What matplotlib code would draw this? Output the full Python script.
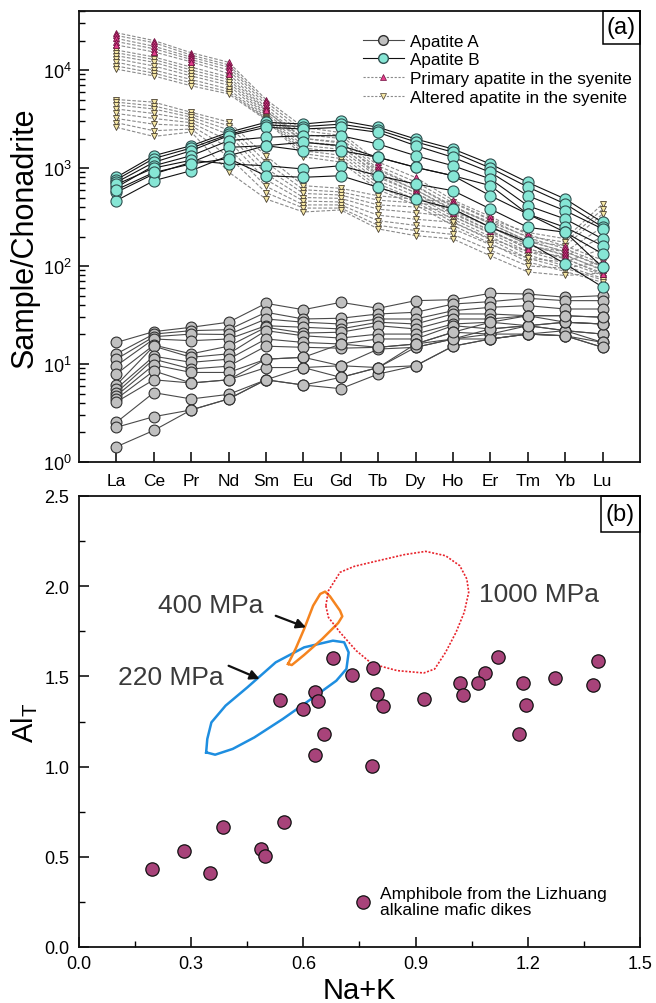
import numpy as np
import matplotlib
matplotlib.use('Agg')
import matplotlib.pyplot as plt
from matplotlib.lines import Line2D
from matplotlib.patches import Rectangle
from matplotlib.ticker import LogLocator, MultipleLocator, FormatStrFormatter, NullFormatter

plt.rcParams['font.family'] = ['Liberation Sans', 'DejaVu Sans']
plt.rcParams['mathtext.fontset'] = 'custom'
plt.rcParams['mathtext.rm'] = 'Liberation Sans'
plt.rcParams['mathtext.it'] = 'Liberation Sans:italic'
plt.rcParams['mathtext.bf'] = 'Liberation Sans:bold'

# ---------------- Panel (a) data: chondrite-normalised REE ----------------
elements = ['La', 'Ce', 'Pr', 'Nd', 'Sm', 'Eu', 'Gd', 'Tb', 'Dy', 'Ho', 'Er', 'Tm', 'Yb', 'Lu']

apatite_a = [
    [16.6, 21.4, 23.7, 26.7, 41.6, 35.8, 42.6, 37.0, 44.3, 45.3, 52.6, 51.8, 48.0, 49.8],
    [12.7, 20.2, 21.9, 22.4, 33.7, 28.8, 29.3, 32.4, 33.7, 40.9, 43.3, 46.8, 44.3, 44.3],
    [11.2, 19.0, 20.2, 20.0, 28.8, 26.7, 25.6, 28.8, 28.8, 35.0, 37.9, 39.4, 36.4, 36.4],
    [9.6, 18.0, 17.3, 18.0, 24.6, 23.7, 22.8, 26.7, 25.6, 32.4, 32.4, 31.1, 31.1, 30.0],
    [7.9, 15.6, 12.7, 15.2, 23.7, 20.7, 21.1, 24.6, 22.8, 28.8, 28.8, 31.1, 26.7, 25.6],
    [6.1, 15.2, 11.7, 12.7, 21.9, 19.4, 18.4, 20.2, 20.2, 25.6, 26.7, 24.6, 21.9, 20.2],
    [5.6, 12.0, 10.4, 11.2, 18.0, 16.6, 16.0, 18.0, 18.0, 24.6, 22.8, 24.6, 21.9, 20.2],
    [5.1, 11.2, 8.9, 9.5, 15.2, 14.8, 14.5, 14.8, 16.0, 21.1, 20.2, 20.2, 19.4, 16.6],
    [4.75, 9.8, 8.2, 8.2, 11.2, 11.7, 9.6, 14.2, 14.8, 18.0, 18.0, 20.2, 19.4, 14.8],
    [4.4, 8.5, 6.4, 6.9, 9.2, 9.2, 7.3, 9.2, 9.6, 15.2, 18.0, 20.2, 21.9, 16.6],
    [4.1, 6.9, 6.4, 6.9, 11.2, 11.7, 16.0, 14.8, 16.0, 18.0, 20.2, 24.6, 26.7, 25.6],
    [2.54, 5.1, 4.4, 4.9, 6.9, 6.1, 5.6, 7.9, 9.6, 15.2, 18.0, 20.2, 19.4, 14.8],
    [2.26, 2.9, 3.4, 4.4, 6.9, 9.2, 9.6, 9.2, 14.8, 18.0, 22.8, 24.6, 26.7, 25.6],
    [1.43, 2.1, 3.4, 4.4, 6.9, 6.1, 7.3, 9.2, 16.0, 21.1, 26.7, 31.1, 31.1, 30.0],
]

apatite_b = [
    [804, 1336, 1690, 2313, 2926, 2812, 3040, 2601, 1977, 1563, 1099, 714, 483, 279],
    [760, 1250, 1600, 2200, 2750, 2650, 2800, 2450, 1850, 1450, 1000, 640, 430, 250],
    [714, 1143, 1503, 2136, 2601, 2500, 2601, 2313, 1690, 1285, 903, 521, 367, 239],
    [635, 1055, 1336, 1900, 2056, 2136, 2136, 1757, 1336, 1055, 773, 412, 302, 189],
    [565, 869, 1143, 1625, 1690, 1828, 1690, 1285, 1016, 834, 661, 339, 248, 161],
    [464, 742, 939, 1336, 1690, 1503, 1503, 1285, 1016, 834, 521, 339, 221, 133],
    [680, 1000, 1200, 1099, 1055, 977, 1055, 834, 687, 587, 382, 248, 221, 97],
    [600, 900, 1100, 1250, 834, 804, 834, 635, 483, 382, 248, 175, 105, 61],
]

primary_syenite = [
    [24000, 20000, 15000, 12000, 5000, 2600, 2300, 1150, 800, 470, 320, 210, 160, 115],
    [22500, 19000, 14200, 11300, 4700, 2400, 2150, 1050, 720, 440, 295, 195, 150, 105],
    [21000, 17500, 13500, 10700, 4400, 2200, 2000, 980, 660, 410, 270, 180, 140, 98],
    [19500, 16500, 12800, 10000, 4100, 2000, 1850, 900, 600, 380, 250, 165, 130, 90],
    [18000, 15300, 12100, 9200, 3900, 1850, 1700, 830, 560, 350, 230, 150, 120, 82],
]

altered_syenite = [
    [16000, 13600, 10700, 8500, 3800, 2000, 1800, 950, 650, 400, 270, 180, 140, 100],
    [15000, 12800, 10000, 8000, 3600, 1850, 1650, 870, 600, 370, 250, 165, 128, 92],
    [14000, 12000, 9300, 7500, 3450, 1700, 1550, 800, 560, 340, 230, 150, 118, 85],
    [13000, 11000, 8700, 7000, 3300, 1600, 1450, 740, 520, 320, 215, 140, 110, 80],
    [12000, 10000, 8000, 6400, 3200, 1500, 1350, 690, 480, 300, 200, 130, 100, 75],
    [11000, 9300, 7400, 6000, 3150, 1400, 1250, 640, 450, 280, 185, 120, 95, 72],
    [10200, 8700, 6900, 5700, 3100, 1300, 1150, 600, 420, 260, 170, 110, 88, 68],
    [5000, 4700, 3700, 2950, 1330, 660, 620, 520, 480, 450, 300, 220, 190, 430],
    [4700, 4300, 3500, 2700, 1150, 600, 570, 470, 440, 400, 280, 200, 175, 380],
    [4400, 4000, 3300, 2450, 1000, 550, 530, 420, 400, 360, 250, 180, 160, 340],
    [4000, 3600, 3100, 2200, 870, 500, 490, 380, 350, 320, 220, 160, 140, 250],
    [3600, 3200, 2900, 1900, 760, 460, 450, 330, 300, 280, 190, 140, 125, 200],
    [3200, 2800, 2700, 1600, 650, 420, 420, 290, 260, 240, 165, 120, 110, 150],
    [2900, 2400, 2500, 1300, 560, 390, 390, 260, 230, 210, 145, 100, 95, 110],
    [2600, 2100, 2330, 910, 483, 356, 373, 239, 204, 189, 127, 87, 80, 85],
]

# ---------------- Panel (b) data: amphibole Al_T vs Na+K ----------------
na_k = [0.679, 0.729, 0.786, 1.121, 1.387, 1.085, 1.019, 1.066, 1.187, 1.272,
        1.375, 0.537, 0.631, 0.639, 0.600, 0.796, 0.814, 0.923, 1.028, 1.194,
        0.655, 1.176, 0.631, 0.784, 0.194, 0.281, 0.349, 0.385, 0.487, 0.497, 0.548]
al_t = [1.600, 1.509, 1.547, 1.606, 1.584, 1.517, 1.462, 1.462, 1.463, 1.489,
        1.452, 1.369, 1.415, 1.364, 1.319, 1.402, 1.336, 1.377, 1.399, 1.343,
        1.179, 1.181, 1.064, 1.005, 0.432, 0.534, 0.408, 0.667, 0.541, 0.503, 0.691]

field_220_x = [0.340, 0.343, 0.354, 0.392, 0.450, 0.526, 0.602, 0.679, 0.709, 0.721,
               0.715, 0.688, 0.621, 0.545, 0.469, 0.411, 0.364]
field_220_y = [1.079, 1.153, 1.245, 1.338, 1.439, 1.578, 1.661, 1.698, 1.689, 1.633,
               1.541, 1.476, 1.375, 1.264, 1.162, 1.098, 1.066]
field_400_x = [0.559, 0.579, 0.602, 0.626, 0.645, 0.658, 0.671, 0.698, 0.704, 0.693,
               0.650, 0.602, 0.569]
field_400_y = [1.569, 1.652, 1.763, 1.892, 1.957, 1.970, 1.944, 1.864, 1.833, 1.796,
               1.707, 1.619, 1.563]
field_1000_x = [0.660, 0.667, 0.698, 0.736, 0.793, 0.870, 0.927, 0.980, 1.018, 1.037,
                1.042, 1.030, 1.008, 0.980, 0.951, 0.922, 0.851, 0.784, 0.741, 0.698, 0.667]
field_1000_y = [1.892, 1.975, 2.077, 2.110, 2.138, 2.175, 2.193, 2.169, 2.114, 2.040,
                1.966, 1.855, 1.744, 1.633, 1.541, 1.519, 1.532, 1.569, 1.643, 1.744, 1.827]

# ---------------- Figure ----------------
fig = plt.figure(figsize=(6.56, 10.04), dpi=100)
ax1 = fig.add_axes([79 / 656, 1 - 463 / 1004, 561 / 656, 451 / 1004])
ax2 = fig.add_axes([79 / 656, 1 - 948 / 1004, 561 / 656, 451 / 1004])

xpos = np.arange(len(elements))

dash = (0, (3.2, 1.6))
for s in primary_syenite:
    ax1.plot(xpos, s, linestyle=dash, color='#8a8a8a', lw=0.8, zorder=2)
for s in altered_syenite:
    ax1.plot(xpos, s, linestyle=dash, color='#8a8a8a', lw=0.8, zorder=2)
for s in altered_syenite:
    ax1.plot(xpos, s, linestyle='none', marker='v', ms=5, mfc='#f6e8a6',
             mec='#4a4030', mew=0.6, zorder=3)
for s in primary_syenite:
    ax1.plot(xpos, s, linestyle='none', marker='^', ms=5, mfc='#e43f8c',
             mec='#701040', mew=0.6, zorder=3)
for s in apatite_a:
    ax1.plot(xpos, s, '-', color='#4a4a4a', lw=0.8, marker='o', ms=7.8,
             mfc='#c0c0c0', mec='#303030', mew=0.8, zorder=4)
for s in apatite_b:
    ax1.plot(xpos, s, '-', color='#111111', lw=0.8, marker='o', ms=8.0,
             mfc='#86e6d5', mec='#305050', mew=0.8, zorder=4)

ax1.set_yscale('log')
ax1.set_ylim(1, 4e4)
ax1.set_xlim(-1, 14)
ax1.set_xticks(xpos)
ax1.set_xticklabels(elements, fontsize=12.5)
ax1.yaxis.set_major_locator(LogLocator(base=10, numticks=10))
ax1.yaxis.set_minor_locator(LogLocator(base=10, subs=np.arange(2, 10), numticks=20))
ax1.yaxis.set_minor_formatter(NullFormatter())
ax1.tick_params(axis='y', labelsize=13, pad=5)
ax1.tick_params(axis='x', pad=8)
ax1.tick_params(which='major', direction='in', length=7, width=1.1, top=False, right=False)
ax1.tick_params(which='minor', direction='in', length=4, width=1.0, top=False, right=False)
ax1.set_ylabel('Sample/Chonadrite', fontsize=22)
ax1.yaxis.set_label_coords(-0.07, 0.5)

handles = [
    Line2D([], [], color='#4a4a4a', lw=0.8, marker='o', ms=7, mfc='#c0c0c0', mec='#303030'),
    Line2D([], [], color='#111111', lw=0.8, marker='o', ms=7, mfc='#86e6d5', mec='#305050'),
    Line2D([], [], color='#8a8a8a', lw=0.8, linestyle=(0, (2, 1.5)), marker='^', ms=4.5,
           mfc='#e43f8c', mec='#701040', mew=0.5),
    Line2D([], [], color='#8a8a8a', lw=0.8, linestyle=(0, (2, 1.5)), marker='v', ms=4.5,
           mfc='#f6e8a6', mec='#4a4030', mew=0.5),
]
labels = ['Apatite A', 'Apatite B', 'Primary apatite in the syenite', 'Altered apatite in the syenite']
ax1.legend(handles, labels, loc='upper left', bbox_to_anchor=(0.506, 0.95), frameon=False,
           fontsize=12.3, handlelength=2.4, handletextpad=0.35, labelspacing=0.22, borderpad=0,
           borderaxespad=0)

for ax, lab, w, h in [(ax1, '(a)', 0.066, 0.073), (ax2, '(b)', 0.070, 0.080)]:
    ax.add_patch(Rectangle((1 - w, 1 - h), w, h, transform=ax.transAxes, fill=False,
                           ec='k', lw=1.1, zorder=6, clip_on=False))
    ax.text(1 - w / 2, 1 - h / 2, lab, transform=ax.transAxes, ha='center', va='center',
            fontsize=17, zorder=7)

for ax in (ax1, ax2):
    for sp in ax.spines.values():
        sp.set_linewidth(1.3)
        sp.set_color('#111111')

# ---------------- Panel (b) ----------------
ax2.plot(field_220_x + field_220_x[:1], field_220_y + field_220_y[:1], color='#1e8ee0',
         lw=1.8, solid_joinstyle='round', zorder=2)
ax2.plot(field_400_x + field_400_x[:1], field_400_y + field_400_y[:1], color='#f5841f',
         lw=1.8, solid_joinstyle='round', zorder=2)
ax2.plot(field_1000_x + field_1000_x[:1], field_1000_y + field_1000_y[:1], color='#e8242c',
         lw=1.2, linestyle=(0, (1.2, 1.0)), zorder=2)

ax2.scatter(na_k, al_t, s=92, c='#a8437a', edgecolors='#111111', linewidths=0.9, zorder=4)

txt_col = '#3a3a3a'
ax2.text(0.211, 1.896, '400 MPa', fontsize=19, color=txt_col, va='center', ha='left')
ax2.text(1.070, 1.957, '1000 MPa', fontsize=19, color=txt_col, va='center', ha='left')
ax2.text(0.104, 1.497, '220 MPa', fontsize=19, color=txt_col, va='center', ha='left')
arrow = dict(arrowstyle='-|>', color='#111111', lw=1.6, mutation_scale=14, shrinkA=0, shrinkB=0)
ax2.annotate('', xy=(0.607, 1.772), xytext=(0.526, 1.836), arrowprops=arrow)
ax2.annotate('', xy=(0.483, 1.486), xytext=(0.400, 1.559), arrowprops=arrow)

ax2.scatter([0.760], [0.248], s=92, c='#a8437a', edgecolors='#111111', linewidths=0.9, zorder=4)
ax2.text(0.805, 0.252, 'Amphibole from the Lizhuang\nalkaline mafic dikes', fontsize=12.5,
         va='center', ha='left', linespacing=1.15)

ax2.set_xlim(0, 1.5)
ax2.set_ylim(0, 2.5)
ax2.xaxis.set_major_locator(MultipleLocator(0.3))
ax2.xaxis.set_minor_locator(MultipleLocator(0.15))
ax2.yaxis.set_major_locator(MultipleLocator(0.5))
ax2.yaxis.set_minor_locator(MultipleLocator(0.25))
ax2.xaxis.set_major_formatter(FormatStrFormatter('%.1f'))
ax2.yaxis.set_major_formatter(FormatStrFormatter('%.1f'))
ax2.tick_params(which='major', direction='in', length=7, width=1.1, labelsize=13,
                top=False, right=False)
ax2.tick_params(which='minor', direction='in', length=4, width=1.0, top=False, right=False)
ax2.tick_params(axis='x', pad=6)
ax2.tick_params(axis='y', pad=7)
ax2.set_xlabel('Na+K', fontsize=21)
ax2.set_ylabel('Al$_{\\rm T}$', fontsize=21)
ax2.xaxis.set_label_coords(0.5, -0.065)
ax2.yaxis.set_label_coords(-0.07, 0.5)

fig.savefig('out.png', dpi=100)
